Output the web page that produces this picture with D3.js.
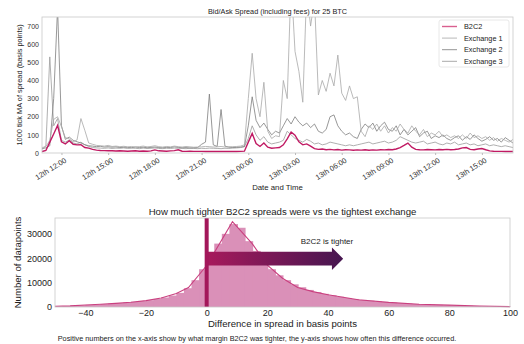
<!DOCTYPE html>
<html>
<head>
<meta charset="utf-8">
<script src="https://cdn.jsdelivr.net/npm/d3@7"></script>
<style>
  body { margin: 0; background: #fff; }
  svg { display: block; font-family: "Liberation Sans", Arial, sans-serif; }
</style>
</head>
<body>
<svg id="chart" width="524" height="344"></svg>
<script>
// ---- top chart data: 15 minute samples from 12th 10:45 to 13th 17:00 ----
const seriesNames = ['B2C2', 'Exchange 1', 'Exchange 2', 'Exchange 3'];
const b2c2 = [
  8, 14, 60, 105, 152, 62, 50, 68, 48, 45,
  46, 30, 27, 20, 16, 14, 13, 12, 12, 11,
  12, 11, 10, 11, 12, 10, 11, 10, 12, 17,
  12, 11, 10, 12, 13, 18, 10, 9, 10, 9,
  9, 9, 8, 8, 9, 8, 8, 9, 8, 8,
  8, 9, 10, 60, 108, 52, 36, 55, 32, 26,
  28, 30, 45, 78, 116, 98, 62, 45, 50, 38,
  24, 20, 22, 18, 20, 17, 19, 16, 18, 17,
  15, 17, 16, 18, 15, 17, 16, 18, 17, 19,
  18, 22, 30, 42, 55, 32, 20, 18, 17, 19,
  18, 17, 19, 18, 20, 18, 19, 22, 28, 30,
  20, 18, 22, 25, 18, 12, 10, 9, 9, 8,
  8, 8
];
const exchange1 = [
  30, 35, 70, 185, 200, 145, 85, 78, 62, 72,
  190, 125, 55, 48, 42, 40, 38, 42, 36, 38,
  35, 37, 34, 36, 33, 35, 38, 34, 36, 40,
  35, 33, 36, 34, 38, 35, 33, 36, 34, 32,
  33, 34, 36, 35, 33, 34, 36, 33, 34, 35,
  36, 38, 45, 300, 550, 300, 200, 390, 120, 80,
  95, 90, 400, 300, 950, 560, 450, 280, 900, 700,
  850, 320, 400, 340, 440, 370, 540, 330, 290, 370,
  300, 310, 120, 90, 150, 130, 160, 120, 150, 110,
  140, 120, 160, 130, 110, 150, 120, 100, 130, 90,
  110, 100, 120, 90, 100, 85, 95, 80, 100, 80,
  110, 85, 95, 80, 90, 70, 85, 65, 80, 70,
  60, 75
];
const exchange2 = [
  25, 28, 40, 300, 800, 150, 75, 88, 70, 62,
  55, 46, 40, 38, 35, 37, 33, 35, 32, 34,
  30, 32, 31, 29, 33, 30, 32, 29, 31, 33,
  30, 29, 31, 30, 34, 31, 29, 30, 28, 29,
  30, 48, 60, 325, 45, 36, 240, 38, 32, 30,
  31, 33, 35, 150, 310, 180, 140, 165, 130, 100,
  120, 110, 150, 190, 160, 200, 170, 150, 165, 140,
  160, 120, 110, 130, 200, 210, 150, 120, 100, 110,
  90, 80, 130, 160, 140, 165, 120, 150, 170, 130,
  120, 150, 100, 130, 100, 120, 140, 90, 110, 120,
  80, 95, 85, 100, 80, 70, 85, 95, 70, 90,
  75, 100, 80, 65, 75, 90, 70, 80, 60, 85,
  70, 55
];
const exchange3 = [
  20, 40, 530, 150, 190, 70, 60, 72, 55, 50,
  60, 45, 36, 30, 28, 27, 26, 28, 25, 27,
  26, 28, 25, 27, 26, 24, 27, 25, 26, 28,
  25, 24, 26, 25, 27, 26, 25, 24, 26, 25,
  24, 26, 25, 27, 26, 25, 24, 26, 25, 27,
  28, 30, 35, 80, 150, 100, 70, 90, 60, 50,
  55, 60, 70, 120, 100, 80, 70, 60, 75, 65,
  50, 55, 45, 50, 60, 55, 50, 45, 40, 45,
  40, 45, 50, 55, 60, 50, 55, 60, 65, 55,
  60, 70, 90, 80, 70, 60, 55, 60, 65, 50,
  55, 60, 50, 45, 55, 50, 60, 45, 50, 55,
  45, 50, 40, 45, 50, 40, 45, 40, 35, 40,
  35, 30
];
const topYTicks = [0, 100, 200, 300, 400, 500, 600, 700];

// ---- bottom chart data: histogram of spread difference (bins of 2.5 bp from -50) ----
const histCounts = [
  320, 420, 560, 720, 860, 1000, 1180, 1400, 1600, 1850,
  2100, 2400, 2800, 3300, 3900, 4700, 5800, 7700, 11000, 15500,
  19500, 26000, 30000, 34000, 32500, 27000, 23000, 19000, 15500, 13000,
  11000, 9300, 8100, 7000, 6100, 5400, 4800, 4200, 3700, 3300,
  2900, 2600, 2300, 2050, 1800, 1600, 1400, 1250, 1100, 980,
  870, 760, 660, 570, 490, 410, 340, 280, 230, 180
];
const kdeX = [-50, -45, -40, -35, -30, -25, -20, -15, -10, -6, 0, 8.5, 15, 20, 25, 30, 35, 40, 50, 60, 70, 80, 90, 100];
const kdeY = [300, 480, 800, 1100, 1500, 1950, 2600, 3700, 5500, 8000, 17000, 35000, 26000, 17200, 11800, 8000, 6300, 5000, 3000, 1900, 1150, 750, 400, 150];
const histXTicks = [-40, -20, 0, 20, 40, 60, 80, 100];
const histYTicks = [0, 10000, 20000, 30000];

const svg = d3.select('#chart');
svg.append('rect').attr('width', 524).attr('height', 344).attr('fill', '#fff');

// ================= top chart =================
const T = { left: 42, right: 513, top: 17, bottom: 153 };
const times = b2c2.map((d, i) => new Date(2020, 0, 12, 10, 45 + 15 * i));

const x = d3.scaleTime().domain(d3.extent(times)).range([T.left, T.right]);
const y = d3.scaleLinear().domain([0, 750]).range([T.bottom, T.top]);

svg.append('defs').append('clipPath').attr('id', 'clipTop')
  .append('rect').attr('x', T.left).attr('y', T.top)
  .attr('width', T.right - T.left).attr('height', T.bottom - T.top);

const line = d3.line().x((d, i) => x(times[i])).y(d => y(d));

const greys = [
  { data: exchange3, color: '#9a9a9a' },
  { data: exchange2, color: '#7d7d7d' },
  { data: exchange1, color: '#a8a8a8' }
];
const gTop = svg.append('g').attr('clip-path', 'url(#clipTop)');
greys.forEach(s => {
  gTop.append('path').attr('d', line(s.data))
    .attr('fill', 'none').attr('stroke', s.color).attr('stroke-width', 0.8);
});
gTop.append('path').attr('d', line(b2c2))
  .attr('fill', 'none').attr('stroke', '#c01a63').attr('stroke-width', 1.4);

svg.append('rect').attr('x', T.left).attr('y', T.top)
  .attr('width', T.right - T.left).attr('height', T.bottom - T.top)
  .attr('fill', 'none').attr('stroke', '#c8c8c8').attr('stroke-width', 0.8);

svg.append('g').attr('transform', `translate(${T.left},0)`)
  .call(d3.axisLeft(y).tickValues(topYTicks).tickSize(0).tickPadding(3))
  .call(g => g.select('.domain').remove())
  .selectAll('text').attr('font-size', 7).attr('fill', '#333');

const fmt = d3.timeFormat('%dth %H:%M');
const xt = svg.append('g').attr('transform', `translate(0,${T.bottom})`)
  .call(d3.axisBottom(x).ticks(d3.timeHour.every(3)).tickFormat(fmt).tickSize(2));
xt.select('.domain').remove();
xt.selectAll('line').attr('stroke', '#bbb');
xt.selectAll('text')
  .attr('font-size', 7.4).attr('fill', '#333')
  .attr('text-anchor', 'end')
  .attr('transform', 'translate(2,4) rotate(-32)')
  .attr('dy', '0.75em').attr('y', 0);

svg.append('text').attr('x', (T.left + T.right) / 2).attr('y', 14)
  .attr('text-anchor', 'middle').attr('font-size', 7.3).attr('fill', '#222')
  .text('Bid/Ask Spread (including fees) for 25 BTC');
svg.append('text').attr('x', (T.left + T.right) / 2).attr('y', 190)
  .attr('text-anchor', 'middle').attr('font-size', 7.8).attr('fill', '#222')
  .text('Date and Time');
svg.append('text')
  .attr('transform', `translate(22,${(T.top + T.bottom) / 2}) rotate(-90)`)
  .attr('text-anchor', 'middle').attr('font-size', 7.4).attr('fill', '#222')
  .text('1000 tick MA of spread (basis points)');

// legend
const lg = svg.append('g').attr('transform', 'translate(439,20)');
lg.append('rect').attr('width', 70).attr('height', 47).attr('rx', 2)
  .attr('fill', '#fff').attr('stroke', '#e2e2e2').attr('stroke-width', 0.8);
const legendColors = ['#d9608f', '#b0b0b0', '#8a8a8a', '#9f9f9f'];
seriesNames.forEach((name, i) => {
  const yy = 6.5 + i * 11.6;
  lg.append('line').attr('x1', 3).attr('x2', 18).attr('y1', yy).attr('y2', yy)
    .attr('stroke', legendColors[i]).attr('stroke-width', i === 0 ? 1.4 : 0.9);
  lg.append('text').attr('x', 25).attr('y', yy).attr('dy', '0.35em')
    .attr('font-size', 7.3).attr('fill', '#222').text(name);
});

// ================= bottom chart =================
const B = { left: 55, right: 510, top: 218, bottom: 307 };
const binStarts = histCounts.map((d, i) => -50 + 2.5 * i);
const hx = d3.scaleLinear().domain([-50, 100]).range([B.left, B.right]);
const hy = d3.scaleLinear().domain([0, 36500]).range([B.bottom, B.top]);

svg.append('g').selectAll('rect').data(histCounts).join('rect')
  .attr('x', (d, i) => hx(binStarts[i]))
  .attr('width', (d, i) => hx(binStarts[i] + 2.5) - hx(binStarts[i]) + 1)
  .attr('y', d => hy(d))
  .attr('height', d => hy(0) - hy(d))
  .attr('fill', '#da90b8');

svg.append('path')
  .attr('d', d3.line().x((d, i) => hx(kdeX[i])).y(d => hy(d))(kdeY))
  .attr('fill', 'none').attr('stroke', '#c9407f').attr('stroke-width', 1.1);

// arrow
const grad = svg.select('defs').append('linearGradient').attr('id', 'arrowGrad')
  .attr('x1', '0%').attr('x2', '100%');
grad.append('stop').attr('offset', '0%').attr('stop-color', '#a71a5c');
grad.append('stop').attr('offset', '100%').attr('stop-color', '#461650');
const ax0 = hx(0), axBase = hx(41.3), axTip = hx(45);
const s1 = hy(22700), s2 = hy(17000), h1 = hy(24400), h2 = hy(15200);
svg.append('path')
  .attr('d', `M${ax0},${s1}L${axBase},${s1}L${axBase},${h1}L${axTip},${(h1 + h2) / 2}L${axBase},${h2}L${axBase},${s2}L${ax0},${s2}Z`)
  .attr('fill', 'url(#arrowGrad)');

svg.append('line').attr('x1', hx(0)).attr('x2', hx(0))
  .attr('y1', B.top).attr('y2', B.bottom)
  .attr('stroke', '#a3175a').attr('stroke-width', 4);

svg.append('text').attr('x', 327).attr('y', 244).attr('text-anchor', 'middle')
  .attr('font-size', 8).attr('fill', '#222').text('B2C2 is tighter');

svg.append('rect').attr('x', B.left).attr('y', B.top)
  .attr('width', B.right - B.left).attr('height', B.bottom - B.top)
  .attr('fill', 'none').attr('stroke', '#c8c8c8').attr('stroke-width', 0.8);

svg.append('g').attr('transform', `translate(0,${B.bottom})`)
  .call(d3.axisBottom(hx).tickValues(histXTicks).tickSize(0).tickPadding(3))
  .call(g => g.select('.domain').remove())
  .selectAll('text').attr('font-size', 9).attr('fill', '#222');

svg.append('g').attr('transform', `translate(${B.left},0)`)
  .call(d3.axisLeft(hy).tickValues(histYTicks).tickFormat(d3.format('d')).tickSize(0).tickPadding(3))
  .call(g => g.select('.domain').remove())
  .selectAll('text').attr('font-size', 9).attr('fill', '#222');

svg.append('text').attr('x', (B.left + B.right) / 2).attr('y', 215)
  .attr('text-anchor', 'middle').attr('font-size', 9.6).attr('fill', '#222')
  .text('How much tighter B2C2 spreads were vs the tightest exchange');
svg.append('text').attr('x', (B.left + B.right) / 2).attr('y', 327)
  .attr('text-anchor', 'middle').attr('font-size', 9.6).attr('fill', '#222')
  .text('Difference in spread in basis points');
svg.append('text')
  .attr('transform', `translate(21,${(B.top + B.bottom) / 2}) rotate(-90)`)
  .attr('text-anchor', 'middle').attr('font-size', 9.6).attr('fill', '#222')
  .text('Number of datapoints');

svg.append('text').attr('x', 257).attr('y', 341)
  .attr('text-anchor', 'middle').attr('font-size', 7.3).attr('fill', '#222')
  .text('Positive numbers on the x-axis show by what margin B2C2 was tighter, the y-axis shows how often this difference occurred.');
</script>
</body>
</html>
